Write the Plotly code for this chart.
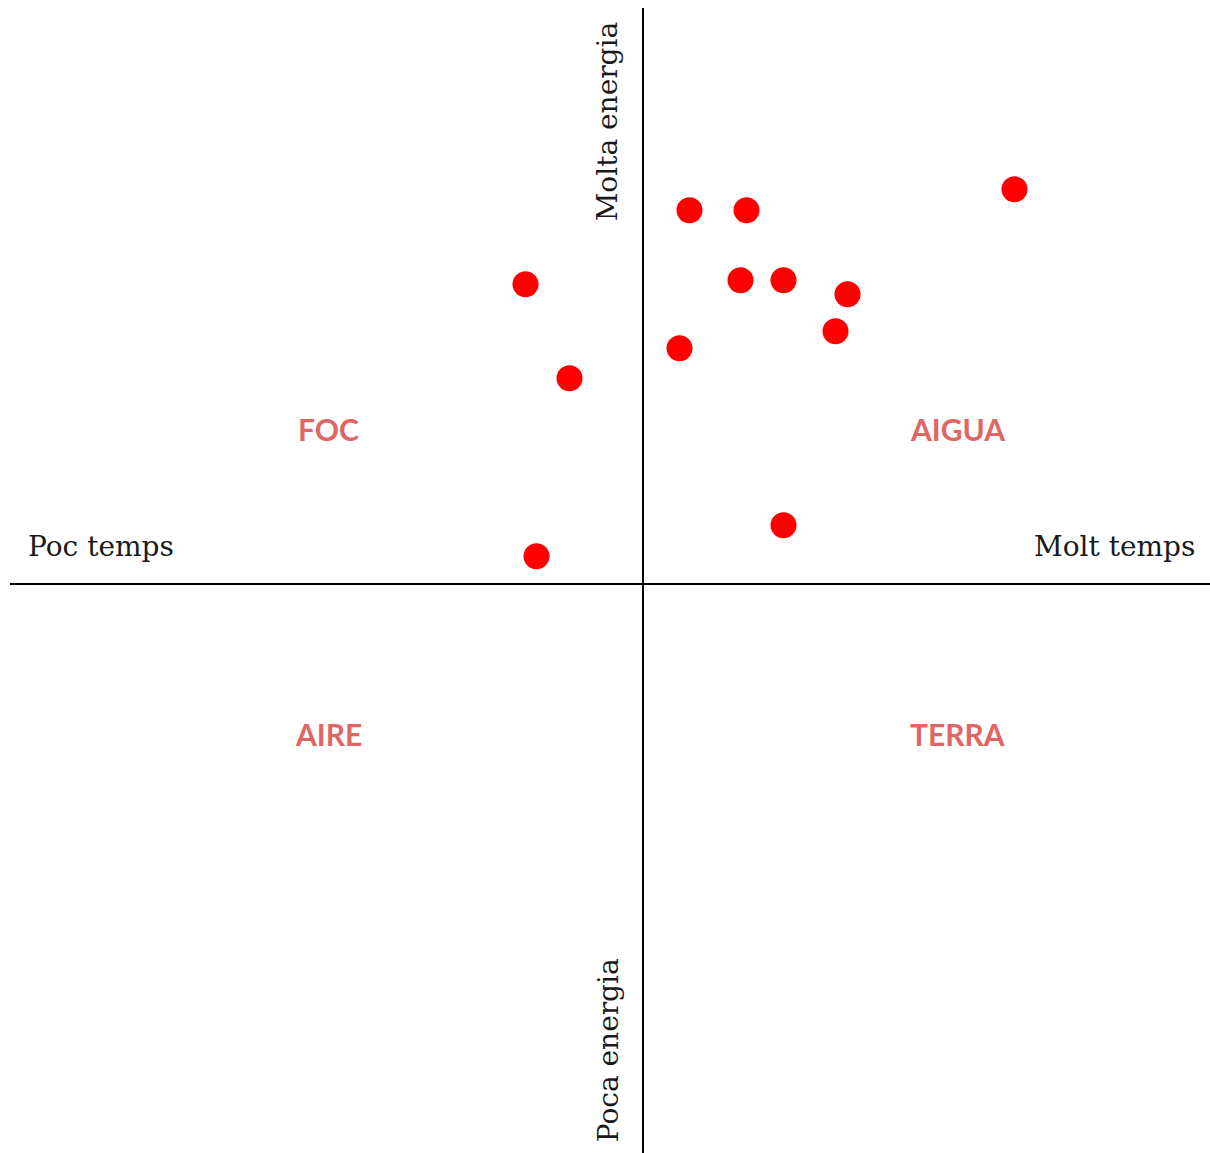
import plotly.graph_objects as go

# Data (x: temps, y: energia), cross at (0,0)
x_vals = [3.72, 0.47, 1.04, -1.17, 0.98, 1.41, 2.05, 1.93, 0.37, -0.73, -1.06, 1.41]
y_vals = [3.95, 3.74, 3.74, 3.00, 3.04, 3.04, 2.90, 2.53, 2.36, 2.06, 0.28, 0.59]

quadrant_names = ["FOC", "AIGUA", "AIRE", "TERRA"]
quadrant_x = [-3.145, 3.145, -3.145, 3.145]
quadrant_y = [1.55, 1.55, -1.50, -1.50]

x_range = [-6.325, 5.675]
y_range = [-5.687, 5.763]

fig = go.Figure()
fig.add_trace(go.Scatter(
    x=x_vals, y=y_vals, mode="markers",
    marker=dict(color="#ff0000", size=26, line=dict(width=0)),
    showlegend=False, hoverinfo="x+y",
))

serif = "DejaVu Serif"
txt_col = "#1a1a1a"
ann = []
ann.append(dict(x=-0.355, y=4.62, text="Molta energia", textangle=-90, showarrow=False,
                xanchor="center", yanchor="middle", font=dict(family=serif, size=28, color=txt_col)))
ann.append(dict(x=-0.345, y=-4.66, text="Poca energia", textangle=-90, showarrow=False,
                xanchor="center", yanchor="middle", font=dict(family=serif, size=28, color=txt_col)))
ann.append(dict(x=-6.165, y=0.383, text="Poc temps", showarrow=False,
                xanchor="left", yanchor="middle", font=dict(family=serif, size=28, color=txt_col)))
ann.append(dict(x=5.545, y=0.383, text="Molt temps", showarrow=False,
                xanchor="right", yanchor="middle", font=dict(family=serif, size=28, color=txt_col)))
for name, qx, qy in zip(quadrant_names, quadrant_x, quadrant_y):
    ann.append(dict(x=qx, y=qy, text=name, showarrow=False, xanchor="center", yanchor="middle",
                    font=dict(family="Lato", size=30, color="#e06666", weight="bold")))

fig.update_layout(
    width=1210, height=1153,
    margin=dict(l=10, r=0, t=8, b=0),
    paper_bgcolor="white", plot_bgcolor="white",
    annotations=ann,
    xaxis=dict(range=x_range, showgrid=False, showticklabels=False, ticks="",
               zeroline=True, zerolinecolor="#000000", zerolinewidth=2, fixedrange=True),
    yaxis=dict(range=y_range, showgrid=False, showticklabels=False, ticks="",
               zeroline=True, zerolinecolor="#000000", zerolinewidth=2, fixedrange=True),
)

fig.write_html(
    "out.html",
    config={"displayModeBar": False},
    post_script="document.body.style.margin='0';document.body.style.overflow='hidden';",
)
